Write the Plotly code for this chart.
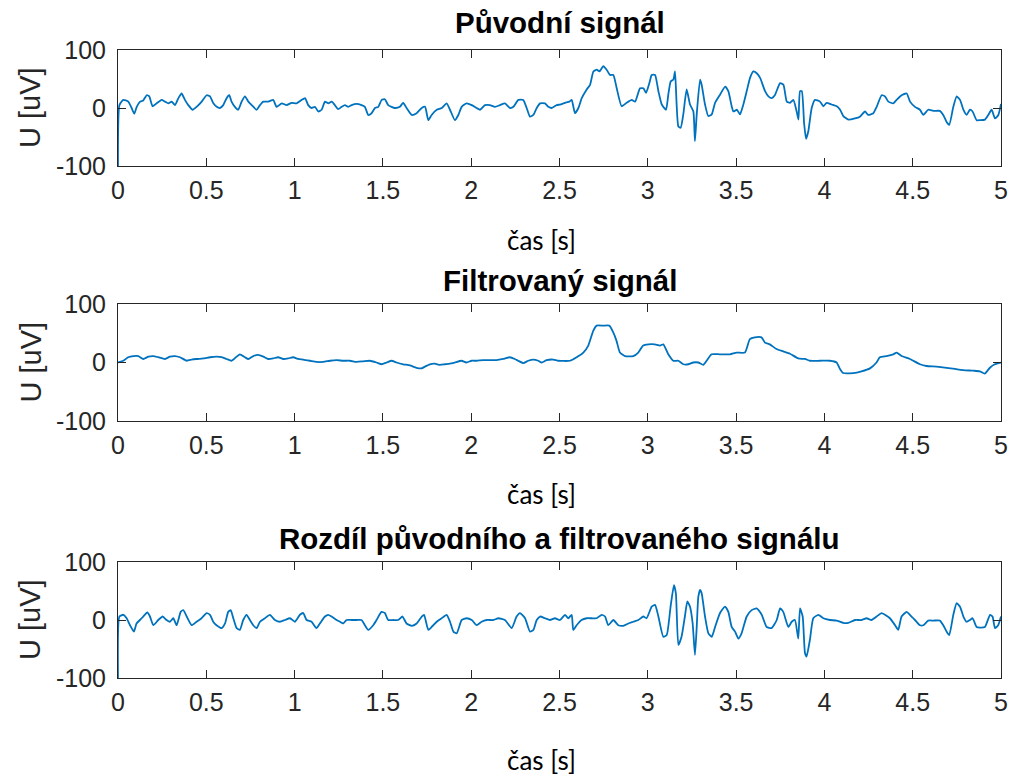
import plotly.graph_objects as go

# ---- data: time [s] and voltage [uV] for each of the three signals ----
t_orig = [
    0, 0.008, 0.030, 0.058, 0.077, 0.092, 0.106, 0.125, 0.143, 0.162, 0.177, 0.196, 0.219, 0.247, 0.266, 0.285,
    0.304, 0.323, 0.342, 0.360, 0.379, 0.398, 0.423, 0.445, 0.474, 0.502, 0.521, 0.540, 0.559, 0.577, 0.596, 0.615,
    0.630, 0.643, 0.662, 0.681, 0.700, 0.719, 0.738, 0.757, 0.785, 0.804, 0.823, 0.851, 0.879, 0.898, 0.927, 0.955,
    0.983, 1.011, 1.040, 1.059, 1.077, 1.096, 1.115, 1.134, 1.153, 1.172, 1.191, 1.210, 1.228, 1.247, 1.266, 1.285,
    1.304, 1.323, 1.351, 1.379, 1.398, 1.417, 1.436, 1.455, 1.474, 1.493, 1.511, 1.530, 1.549, 1.568, 1.596, 1.615,
    1.634,
    1.663, 1.691, 1.720, 1.739, 1.757, 1.776, 1.805, 1.833, 1.861, 1.880, 1.908, 1.927, 1.946, 1.974, 2.003, 2.031,
    2.050, 2.078, 2.106, 2.135, 2.163, 2.191, 2.220, 2.239, 2.267, 2.295, 2.314, 2.333, 2.352, 2.371, 2.390, 2.418,
    2.437, 2.456, 2.484,
    2.503, 2.531, 2.556, 2.569, 2.578, 2.588, 2.607, 2.626, 2.654, 2.673, 2.692, 2.711, 2.726, 2.748, 2.767, 2.786,
    2.805, 2.824, 2.852, 2.880, 2.909, 2.928, 2.956, 2.975, 2.990, 3.009, 3.022, 3.041, 3.060, 3.079, 3.103, 3.116,
    3.130, 3.145, 3.154, 3.173, 3.186, 3.201, 3.220, 3.239, 3.258, 3.267, 3.277,
    3.296, 3.305, 3.324, 3.343, 3.362, 3.381, 3.409, 3.438, 3.456, 3.475, 3.485, 3.504, 3.522, 3.541, 3.560, 3.579,
    3.598, 3.617, 3.636, 3.664, 3.683, 3.702, 3.721, 3.749, 3.768, 3.787, 3.805, 3.824, 3.843, 3.853, 3.862, 3.872,
    3.885, 3.896, 3.909, 3.928, 3.947, 3.975, 3.994, 4.013, 4.041, 4.070, 4.089, 4.107, 4.136,
    4.173, 4.201, 4.230, 4.248, 4.277, 4.296, 4.324, 4.343, 4.362, 4.390, 4.409, 4.437, 4.466, 4.485, 4.513, 4.541,
    4.560, 4.588, 4.617, 4.654, 4.673, 4.692, 4.707, 4.730, 4.749, 4.768, 4.787, 4.805, 4.824, 4.839, 4.862, 4.881,
    4.909, 4.928, 4.947, 4.966, 4.985, 5.0,
]
u_orig = [
    -100, 5, 14, 11, 0, -10, 2, 11, 13, 22, 20, 3, 8, 14, 11, 8,
    11, 5, 17, 25, 14, 5, -3, 2, 11, 22, 20, 8, 2, 0, 5, 17,
    22, 11, 2, -3, 11, 20, 11, 5, -3, 5, 11, 11, 14, 2, 8, 5,
    9, 8, 14, 17, 5, 0, 2, -6, -3, 11, 8, 11, 5, -2, 2, 5,
    2, 5, 7, 5, 2, -12, -9, 0, 2, 14, 15, 5, 2, 0, 2, 9,
    0,
    -12, -9, 0, 2, -21, -12, -3, 0, 8, -3, -21, -12, 2, 8, 5, 0,
    -3, 5, 5, 2, 5, 8, 0, 2, 14, 14, 0, -15, -12, 0, 8, 8,
    2, 0, 5,
    6, 9, 11, 14, 3, -9, 0, 17, 32, 40, 63, 66, 63, 72, 66, 57,
    57, 34, 3, 9, 14, 11, 34, 34, 26, 43, 57, 57, 29, 6, -3, 23,
    46, 49, 63, -32, -34, -11, 32, 6, -6, -57, -11,
    49, 40, 6, -14, -11, 9, 23, 37, 29, 3, -6, -3, -11, 6, 29, 52,
    63, 60, 52, 29, 20, 17, 23, 43, 40, 11, 9, 14, -6, -20, 29, 29,
    -26, -53, -40, 0, 14, 11, 3, 9, 6, 3, -3, -14, -20,
    -18, -15, -6, -12, -9, 2, 22, 20, 11, 8, 14, 22, 25, 11, 2, -3,
    -12, -3, -5, -5, -12, -24, -29, 2, 20, 14, -3, -12, -3, -6, -21, -21,
    -20, -12, -3, -18, -12, 7,
]

t_filt = [
    0, 0.030, 0.058, 0.087, 0.115, 0.143, 0.172, 0.200, 0.228, 0.266, 0.294, 0.322, 0.351, 0.389, 0.417, 0.445,
    0.483, 0.521, 0.558, 0.587, 0.615, 0.643, 0.672, 0.690, 0.719, 0.738, 0.766, 0.794, 0.823, 0.851, 0.879, 0.907,
    0.936, 0.964, 0.992, 1.021, 1.049, 1.087, 1.124, 1.162, 1.200, 1.238, 1.275, 1.313, 1.351, 1.389, 1.426, 1.464,
    1.493, 1.521, 1.549, 1.577, 1.615, 1.653, 1.690, 1.719, 1.738, 1.766, 1.794, 1.823, 1.851, 1.879, 1.907, 1.945,
    1.973, 2.002, 2.030, 2.068, 2.106, 2.143, 2.181, 2.219, 2.247, 2.266, 2.295, 2.323, 2.351, 2.380, 2.399, 2.427,
    2.465, 2.493,
    2.559, 2.597, 2.635, 2.663, 2.691, 2.710, 2.748, 2.782, 2.805, 2.823, 2.842, 2.871, 2.918, 2.946, 2.974, 3.003,
    3.040, 3.069, 3.088, 3.116, 3.144, 3.173, 3.201, 3.229, 3.257, 3.286, 3.314, 3.333, 3.361, 3.408, 3.465, 3.503,
    3.550, 3.578, 3.606, 3.644, 3.663, 3.691, 3.729, 3.767, 3.805, 3.852, 3.890, 3.918, 3.975, 4.031, 4.069, 4.088,
    4.107, 4.163, 4.210, 4.258, 4.295, 4.314, 4.352, 4.390, 4.409, 4.437, 4.484, 4.541, 4.578, 4.635, 4.692, 4.739,
    4.786, 4.842, 4.880, 4.908, 4.937, 4.965, 5.0,
]
u_filt = [
    0, 3, 9, 11, 11, 6, 10, 11, 9, 6, 10, 11, 9, 3, 5, 6,
    7, 9, 10, 9, 6, 3, 10, 14, 9, 6, 11, 13, 10, 6, 7, 9,
    6, 7, 9, 6, 5, 3, 1, 1, 3, 4, 3, 3, 1, 2, 3, 0,
    -3, 0, 3, 0, -3, -5, -9, -10, -7, -3, -2, -4, -3, -2, 0, 3,
    0, 3, 3, 4, 4, 4, 6, 9, 6, 3, -1, 3, 5, 3, 0, 4,
    5, 3,
    3, 9, 17, 29, 54, 63, 63, 63, 51, 37, 17, 11, 11, 17, 29, 31,
    31, 29, 31, 14, 3, 3, -3, -3, 0, 0, -4, 3, 14, 14, 14, 17,
    17, 40, 43, 43, 34, 31, 23, 19, 15, 7, 6, 3, 3, 3, 0, -11,
    -18, -18, -15, -10, 0, 9, 11, 14, 17, 11, 6, -3, -6, -7, -9, -11,
    -13, -14, -15, -19, -9, -3, 0,
]

t_diff = [
    0, 0.008, 0.030, 0.049, 0.068, 0.090, 0.105, 0.124, 0.143, 0.166, 0.181, 0.200, 0.228, 0.253, 0.275, 0.294,
    0.313, 0.332, 0.355, 0.370, 0.389, 0.417, 0.445, 0.473, 0.502, 0.521, 0.539, 0.558, 0.587, 0.606, 0.624, 0.638,
    0.653, 0.672, 0.690, 0.709, 0.728, 0.747, 0.766, 0.785, 0.804, 0.832, 0.860, 0.889, 0.917, 0.945, 0.974, 1.002,
    1.030, 1.049, 1.068, 1.096, 1.124, 1.143, 1.172, 1.190, 1.209, 1.238, 1.257, 1.275, 1.294, 1.323, 1.351, 1.379,
    1.398, 1.417, 1.445, 1.464, 1.492, 1.511, 1.530, 1.559, 1.587, 1.611, 1.634,
    1.663, 1.691, 1.720, 1.733, 1.757, 1.776, 1.805, 1.833, 1.861, 1.880, 1.899, 1.918, 1.946, 1.974, 2.003, 2.031,
    2.059, 2.088, 2.125, 2.154, 2.191, 2.229, 2.257, 2.276, 2.305, 2.333, 2.352, 2.371, 2.390, 2.418, 2.446, 2.474,
    2.503, 2.531, 2.550, 2.569, 2.578, 2.597, 2.625, 2.654, 2.682, 2.710, 2.739, 2.758, 2.776, 2.805, 2.833, 2.861,
    2.890, 2.918, 2.946, 2.975, 2.993, 3.022, 3.041, 3.060, 3.088, 3.107, 3.129, 3.148, 3.159, 3.173, 3.191, 3.210,
    3.224, 3.239, 3.254, 3.267, 3.277, 3.286,
    3.296, 3.305, 3.324, 3.343, 3.362, 3.381, 3.409, 3.437, 3.456, 3.475, 3.494, 3.513, 3.531, 3.560, 3.588, 3.616,
    3.645, 3.673, 3.701, 3.730, 3.749, 3.767, 3.796, 3.815, 3.833, 3.852, 3.862, 3.877, 3.890, 3.899, 3.918, 3.937,
    3.966, 3.994, 4.032, 4.069, 4.107, 4.135, 4.173, 4.211, 4.239, 4.267, 4.296, 4.324, 4.343, 4.371, 4.400, 4.418,
    4.437, 4.466, 4.484, 4.513, 4.541, 4.560, 4.588, 4.617, 4.654, 4.673, 4.692, 4.707, 4.730, 4.749, 4.768, 4.787,
    4.805, 4.824, 4.839, 4.862, 4.881, 4.909, 4.938, 4.952, 4.966, 4.984, 5.0,
]
u_diff = [
    -100, 6, 9, 3, -9, -20, -6, 0, 6, 13, 6, -9, 0, 6, 0, -3,
    3, -9, 14, 17, 6, -9, -3, 3, 12, 9, -3, -9, -14, -6, 14, 17,
    3, -14, -17, 0, 9, 0, -9, -14, -3, 3, 9, 0, -3, 0, 3, -3,
    9, 12, 0, -3, -14, -6, 6, 9, 6, 0, -3, -6, 0, 0, 0, 0,
    -9, -17, -9, 0, 14, 12, 0, 0, 0, 6, -6,
    -10, -6, 6, 9, -17, -12, -3, 3, 9, -3, -20, -23, 0, 3, 0, -9,
    -3, 0, 0, 3, 0, -14, 6, 12, 3, -20, -17, 0, 6, 3, 0, 3,
    0, 9, 3, 9, -17, -9, 0, 3, 3, 3, 9, 6, -9, 0, -9, -10,
    -6, -3, 0, 6, 3, 23, 26, 6, -29, -26, 23, 60, 46, -43, -29, 6,
    32, 23, -6, -60, -12, 40,
    52, 46, 6, -23, -29, -12, 12, 23, 14, -12, -20, -32, -23, 6, 17, 20,
    9, -12, -14, 0, 20, 14, -12, -3, 0, -32, 20, 6, -57, -63, -34, 3,
    9, 3, 0, -1, -5, -5, 0, 0, 3, 0, 6, 12, 9, 3, -9, -17,
    6, 14, 9, 0, -9, -9, -1, -1, -1, -9, -20, -26, 9, 29, 23, 6,
    -3, 0, 3, -12, -13, -12, 9, 6, -14, -9, 6,
]

titles = ["Původní signál", "Filtrovaný signál", "Rozdíl původního a filtrovaného signálu"]
x_label = "čas [s]"
y_label = "U [uV]"
x_ticks = [0, 0.5, 1, 1.5, 2, 2.5, 3, 3.5, 4, 4.5, 5]
y_ticks = [-100, 0, 100]

assert len(t_orig) == len(u_orig)
assert len(t_filt) == len(u_filt)
assert len(t_diff) == len(u_diff)

# ---- page geometry (pixels) ----
W, H = 1014, 776
LEFT, RIGHT = 118, 1001
panels = [(50, 166), (304, 421), (562, 678)]        # top / bottom of each axes box
title_y = [22, 280, 538]
xlabel_y = [240, 494, 760]

def px(x):
    return x / W

def py(y):
    return 1 - y / H

LINE = "#0072BD"
AXC = "#262626"
SANS = "Liberation Sans, Arial, Helvetica, sans-serif"
TICK_FONT = dict(family=SANS, size=25, color=AXC)

fig = go.Figure()
series = [(t_orig, u_orig), (t_filt, u_filt), (t_diff, u_diff)]
for i, (tt, uu) in enumerate(series):
    sfx = "" if i == 0 else str(i + 1)
    fig.add_trace(go.Scatter(
        x=tt, y=uu, mode="lines",
        line=dict(color=LINE, width=1.8, shape="spline", smoothing=0.5),
        xaxis="x" + sfx, yaxis="y" + sfx, showlegend=False,
        hoverinfo="skip",
    ))

layout = dict(
    template="none",
    width=W, height=H, autosize=False,
    margin=dict(l=0, r=0, t=0, b=0, pad=0),
    paper_bgcolor="white", plot_bgcolor="white",
    showlegend=False,
)
annotations = []
for i, (top, bot) in enumerate(panels):
    sfx = "" if i == 0 else str(i + 1)
    layout["xaxis" + sfx] = dict(
        domain=[px(LEFT), px(RIGHT)], range=[0, 5], anchor="y" + sfx,
        tickmode="array", tickvals=x_ticks, ticktext=[f"{v:g}" for v in x_ticks],
        ticks="inside", ticklen=8, tickwidth=1, tickcolor=AXC,
        showline=True, linecolor=AXC, linewidth=1, mirror="ticks",
        showgrid=False, zeroline=False, tickfont=TICK_FONT, ticklabelstandoff=2,
        automargin=False, fixedrange=True,
    )
    layout["yaxis" + sfx] = dict(
        domain=[py(bot), py(top)], range=[-100, 100], anchor="x" + sfx,
        tickmode="array", tickvals=y_ticks, ticktext=[str(v) for v in y_ticks],
        ticks="inside", ticklen=8, tickwidth=1, tickcolor=AXC,
        showline=True, linecolor=AXC, linewidth=1, mirror="ticks",
        showgrid=False, zeroline=False, tickfont=TICK_FONT, ticklabelstandoff=6,
        automargin=False, fixedrange=True,
    )
    annotations.append(dict(
        text=f"<b>{titles[i]}</b>", x=px((LEFT + RIGHT) / 2), y=py(title_y[i]),
        xref="paper", yref="paper", xanchor="center", yanchor="middle", showarrow=False,
        font=dict(family=SANS, size=29.5, color="#000000"),
    ))
    annotations.append(dict(
        text=x_label, x=px(541), y=py(xlabel_y[i]),
        xref="paper", yref="paper", xanchor="center", yanchor="middle", showarrow=False,
        font=dict(family="Lato, sans-serif", size=26, color="#000000"),
    ))
    annotations.append(dict(
        text=y_label, x=px(30), y=py((top + bot) / 2), textangle=-90,
        xref="paper", yref="paper", xanchor="center", yanchor="middle", showarrow=False,
        font=dict(family=SANS, size=29, color=AXC),
    ))
layout["annotations"] = annotations
fig.update_layout(**layout)

fig.write_html("out.html")
